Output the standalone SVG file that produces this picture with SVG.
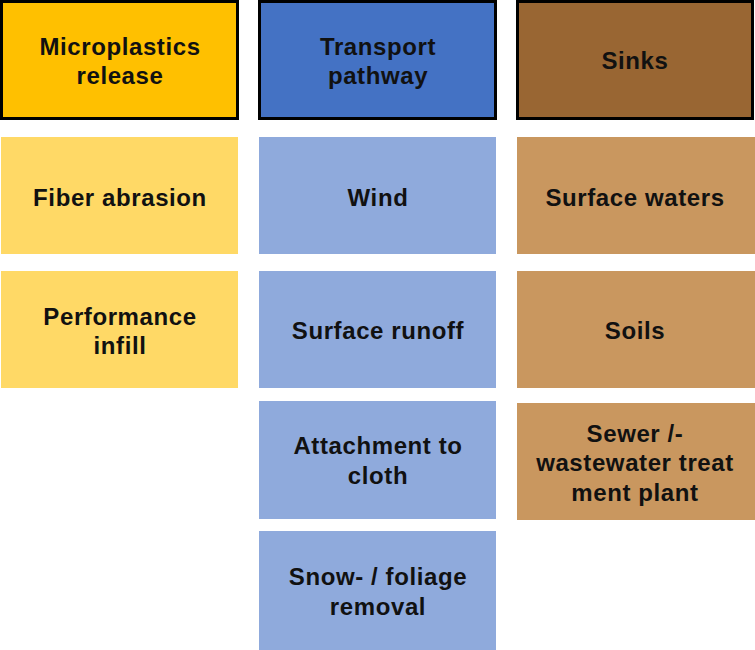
<svg xmlns="http://www.w3.org/2000/svg" width="755" height="650" viewBox="0 0 755 650">
<style>
text{font-family:"Liberation Sans",Arial,sans-serif;font-weight:bold;font-size:24px;letter-spacing:0.6px;fill:#111;text-anchor:middle}
.hdr{stroke:#000;stroke-width:3}
.y1{fill:#FFC000}.b1{fill:#4472C4}.r1{fill:#996633}
.y2{fill:#FFD966}.b2{fill:#8FAADC}.r2{fill:#C9975F}
</style>
<rect width="755" height="650" fill="#fff"/>
<g id="header-release"><rect class="hdr y1" x="1.5" y="1.5" width="236" height="117"/><text x="120" y="54.5">Microplastics</text><text x="120" y="84">release</text></g>
<g id="header-transport"><rect class="hdr b1" x="259.5" y="1.5" width="236" height="117"/><text x="378" y="54.5">Transport</text><text x="378" y="84">pathway</text></g>
<g id="header-sinks"><rect class="hdr r1" x="517.5" y="1.5" width="235" height="117"/><text x="635" y="69">Sinks</text></g>

<g id="fiber-abrasion"><rect class="y2" x="1" y="137" width="237" height="117"/><text x="120" y="206">Fiber abrasion</text></g>
<g id="performance-infill"><rect class="y2" x="1" y="271" width="237" height="117"/><text x="120" y="324.5">Performance</text><text x="120" y="354">infill</text></g>

<g id="wind"><rect class="b2" x="259" y="137" width="237" height="117"/><text x="378" y="206">Wind</text></g>
<g id="surface-runoff"><rect class="b2" x="259" y="271" width="237" height="117"/><text x="378" y="339">Surface runoff</text></g>
<g id="attachment-cloth"><rect class="b2" x="259" y="401" width="237" height="118"/><text x="378" y="454">Attachment to</text><text x="378" y="484">cloth</text></g>
<g id="snow-foliage"><rect class="b2" x="259" y="531" width="237" height="119"/><text x="378" y="585">Snow- / foliage</text><text x="378" y="614.5">removal</text></g>

<g id="surface-waters"><rect class="r2" x="517" y="137" width="238" height="117"/><text x="635" y="206">Surface waters</text></g>
<g id="soils"><rect class="r2" x="517" y="271" width="238" height="117"/><text x="635" y="339">Soils</text></g>
<g id="sewer"><rect class="r2" x="517" y="403" width="238" height="117"/><text x="635" y="441.5">Sewer /-</text><text x="635" y="471">wastewater treat</text><text x="635" y="500.5">ment plant</text></g>

<g id="connectors"></g>
</svg>
